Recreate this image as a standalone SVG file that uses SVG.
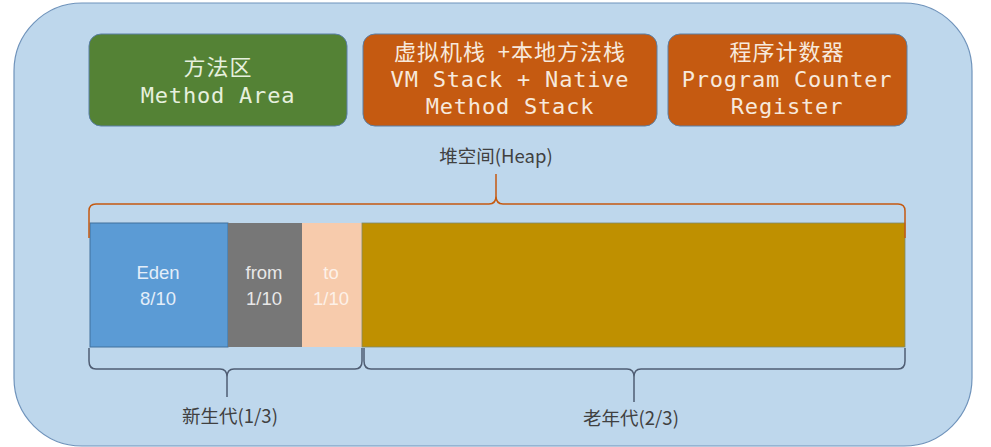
<svg xmlns="http://www.w3.org/2000/svg" width="991" height="447" viewBox="0 0 991 447">
<style>
.box{stroke:#5a7fa6;stroke-width:1}
.mono{font-family:"DejaVu Sans Mono","Noto Sans CJK SC",monospace;font-size:22px;letter-spacing:0.8px;text-anchor:middle}
.cjk{font-family:"Noto Sans CJK SC","Noto Sans",sans-serif;font-size:22px;letter-spacing:1px;text-anchor:middle}
.lbl{font-family:"Noto Sans CJK SC","Liberation Sans",sans-serif;font-size:18.5px;fill:#404040;text-anchor:middle}
.seg{font-family:"Liberation Sans","Noto Sans",sans-serif;font-size:18.5px;text-anchor:middle}
.brace{fill:none;stroke-width:1.5;stroke-linejoin:round}
</style>
<rect x="14" y="3" width="958" height="443" rx="68" ry="68" fill="#bed7ec" stroke="#6f93bb" stroke-width="1.2"/>

<g id="method-area">
<rect class="box" x="89" y="34" width="258" height="92" rx="12" fill="#548235"/>
<text class="cjk" x="218" y="75" fill="#e6f0de">方法区</text>
<text class="mono" x="218" y="103" fill="#e6f0de">Method Area</text>
</g>

<g id="vm-stack">
<rect class="box" x="363" y="34" width="294" height="92" rx="12" fill="#c55a11"/>
<text class="cjk" x="510" y="60" fill="#f7e9dc" xml:space="preserve">虚拟机栈  +本地方法栈</text>
<text class="mono" x="510" y="87" fill="#f7e9dc">VM Stack + Native</text>
<text class="mono" x="510" y="114" fill="#f7e9dc">Method Stack</text>
</g>

<g id="pc-register">
<rect class="box" x="668" y="34" width="239" height="92" rx="12" fill="#c55a11"/>
<text class="cjk" x="787" y="60" fill="#f7e9dc">程序计数器</text>
<text class="mono" x="787" y="87" fill="#f7e9dc">Program Counter</text>
<text class="mono" x="787" y="114" fill="#f7e9dc">Register</text>
</g>

<g id="heap-label">
<text class="lbl" x="496" y="163">堆空间(Heap)</text>
</g>

<g id="heap">
<rect id="eden" x="90" y="223" width="138" height="124" fill="#5b9bd5" stroke="#41719c" stroke-width="1"/>
<rect id="from" x="228" y="223" width="74" height="124" fill="#777777"/>
<rect id="to" x="302" y="223" width="60" height="124" fill="#f7cbac"/>
<rect id="old" x="362" y="223" width="543" height="124" fill="#bf9000" stroke="#7f8a6a" stroke-width="0.8"/>
<text class="seg" x="158" y="279" fill="#e3eef9">Eden</text>
<text class="seg" x="158" y="305" fill="#e3eef9">8/10</text>
<text class="seg" x="264" y="279" fill="#e8e8e8">from</text>
<text class="seg" x="264" y="305" fill="#e8e8e8">1/10</text>
<text class="seg" x="331" y="279" fill="#fdf1e8">to</text>
<text class="seg" x="331" y="305" fill="#fdf1e8">1/10</text>
</g>

<g id="connectors">
<path class="brace" stroke="#c55a11" d="M89 238 L89 211 Q89 204 96 204 L489 204 Q496 204 496 196 L496 174 M496 174 L496 196 Q496 204 503 204 L898 204 Q905 204 905 211 L905 238"/>
<path class="brace" stroke="#4f5d73" d="M89 348 L89 361 Q89 369 96 369 L220 369 Q227 369 227 377 L227 397 M227 397 L227 377 Q227 369 234 369 L355 369 Q362 369 362 361 L362 348"/>
<path class="brace" stroke="#4f5d73" d="M364 348 L364 361 Q364 369 371 369 L627 369 Q634 369 634 377 L634 402 M634 402 L634 377 Q634 369 641 369 L898 369 Q905 369 905 361 L905 348"/>
</g>

<g id="young-label"><text class="lbl" x="230" y="423">新生代(1/3)</text></g>
<g id="old-label"><text class="lbl" x="631" y="425">老年代(2/3)</text></g>
</svg>
